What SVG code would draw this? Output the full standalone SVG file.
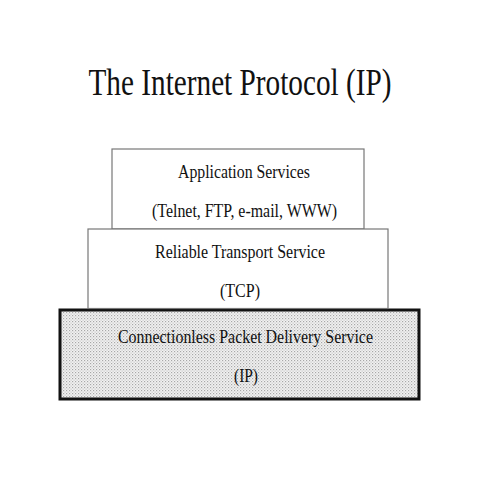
<svg xmlns="http://www.w3.org/2000/svg" width="480" height="480" viewBox="0 0 480 480">
<style>
.t{font-family:"Liberation Serif","Times New Roman",serif;fill:#111;}
.lbl{font-size:19px;}
.box{fill:#fff;stroke:#777;stroke-width:1.2;}
.base{fill:url(#dots);stroke:#111;stroke-width:3;}
</style>
<defs>
<pattern id="dots" width="3" height="3" patternUnits="userSpaceOnUse">
<rect width="3" height="3" fill="#f2f2f2"/>
<rect x="0" y="0" width="1.2" height="1.2" fill="#a8a8a8"/>
<rect x="1.5" y="1.5" width="1.2" height="1.2" fill="#c4c4c4"/>
</pattern>
</defs>
<rect width="480" height="480" fill="#fff"/>
<text class="t" x="240" y="95" font-size="37" text-anchor="middle" textLength="303" lengthAdjust="spacingAndGlyphs">The Internet Protocol (IP)</text>
<g id="ip">
<rect class="base" x="60" y="310" width="359" height="89"/>
<text class="t lbl" x="245.5" y="343" text-anchor="middle" textLength="255" lengthAdjust="spacingAndGlyphs">Connectionless Packet Delivery Service</text>
<text class="t lbl" x="246" y="382" text-anchor="middle" textLength="24" lengthAdjust="spacingAndGlyphs">(IP)</text>
</g>
<g id="app">
<rect class="box" x="112" y="149" width="252" height="80"/>
<text class="t lbl" x="244" y="178" text-anchor="middle" textLength="132" lengthAdjust="spacingAndGlyphs">Application Services</text>
<text class="t lbl" x="244.5" y="217" text-anchor="middle" textLength="185" lengthAdjust="spacingAndGlyphs">(Telnet, FTP, e-mail, WWW)</text>
</g>
<g id="tcp">
<rect class="box" x="88" y="229" width="300" height="79.5"/>
<text class="t lbl" x="240" y="258" text-anchor="middle" textLength="170" lengthAdjust="spacingAndGlyphs">Reliable Transport Service</text>
<text class="t lbl" x="240" y="297" text-anchor="middle" textLength="40" lengthAdjust="spacingAndGlyphs">(TCP)</text>
</g>
<g id="connectors"></g>
</svg>
